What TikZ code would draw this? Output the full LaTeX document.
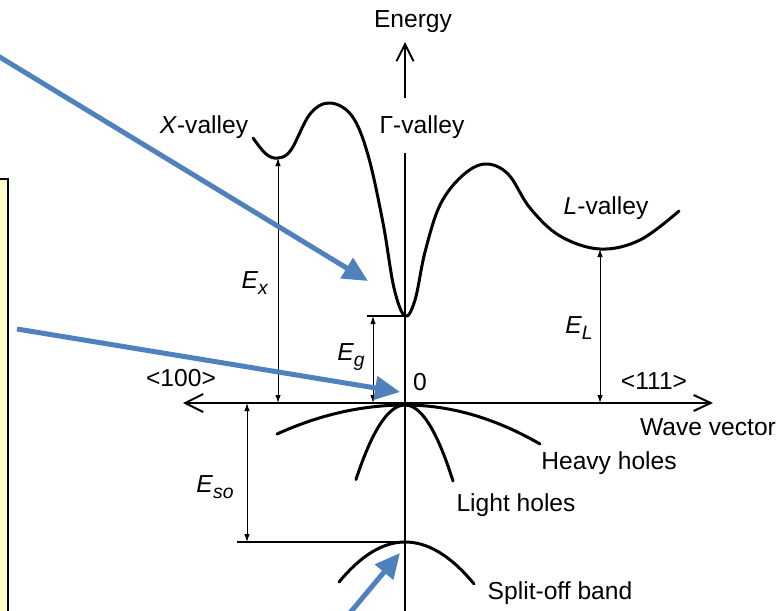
\documentclass[tikz,border=0pt]{standalone}
\usepackage{fontspec}
\setmainfont{Liberation Sans}
\usepackage{tikz}
\usetikzlibrary{arrows.meta}
\usepackage{xcolor}
\definecolor{pointblue}{HTML}{4F81BD}
\definecolor{notepad}{HTML}{FFFFCC}
\newcommand{\Esub}[1]{\textit{E}\raisebox{-0.5ex}{\fontsize{11}{12}\selectfont\textit{#1}}}

\begin{document}
\begin{tikzpicture}[
  x=0.2mm, y=-0.2mm,
  band/.style={line width=0.6mm, line join=round, line cap=round},
  axisline/.style={line width=0.4mm},
  axistip/.style={-{Straight Barb[length=3.4mm,width=3.4mm]}},
  dimline/.style={line width=0.2mm,
                  {Latex[length=1.6mm,width=1.1mm]}-{Latex[length=1.6mm,width=1.1mm]}},
  guide/.style={line width=0.25mm},
  pointer/.style={line width=1mm, color=pointblue, -{Triangle[length=5mm,width=4.6mm]}},
  txt/.style={font=\fontsize{14}{16}\selectfont, inner sep=1pt},
]
  \useasboundingbox (0,0) rectangle (781,610);

  % note box cut off at the left edge
  \draw[fill=notepad, line width=0.4mm] (-10,179) rectangle (8,620);

  % axes
  \coordinate (O) at (405,403);
  \coordinate (kl) at (183,403);
  \coordinate (kr) at (713,403);
  \coordinate (ebot) at (405,612);
  \coordinate (egap) at (405,153);
  \coordinate (ebase) at (405,98);
  \coordinate (etip) at (405,42);
  \draw[axisline, {Straight Barb[length=3.6mm,width=3.6mm]}-{Straight Barb[length=3.4mm,width=3.2mm]}] (kl) -- (kr);
  \draw[axisline] (ebot) -- (egap);
  \draw[axisline, axistip] (ebase) -- (etip);

  % conduction band
  \draw[band] plot[smooth, tension=0.6] coordinates {
    (253,138) (266,154) (278,158) (291,150) (310,114) (330,103)
    (352,116) (368,155) (383,223) (394,288) (405,316) (415,300)
    (425,252) (440,205) (462,176) (485,164) (508,174) (530,208)
    (560,236) (600,249) (640,240) (679,211)};

  % valence bands (offsets in tens of px)
  \draw[band] plot[domain=277:405, samples=40] (\x, {405+0.177*((\x-405)/10)^2});
  \draw[band] plot[domain=405:540, samples=40] (\x, {405+0.214*((\x-405)/10)^2});
  \draw[band] plot[domain=356:405, samples=30] (\x, {405+3.1*((\x-405)/10)^2});
  \draw[band] plot[domain=405:453, samples=30] (\x, {405+3.3*((\x-405)/10)^2});
  \draw[band] plot[domain=339:405, samples=30] (\x, {542+0.92*((\x-405)/10)^2});
  \draw[band] plot[domain=405:474, samples=30] (\x, {542+0.88*((\x-405)/10)^2});

  % energy separations
  \coordinate (Xmin) at (278,158);
  \coordinate (Gmin) at (405,316);
  \coordinate (Lmin) at (600,249);
  \coordinate (SOtop) at (405,542);
  \coordinate (gref) at (367,316);
  \coordinate (gtop) at (373,316);
  \coordinate (soref) at (237,542);
  \coordinate (sotop) at (247,403);
  \draw[guide] (gref) -- (Gmin);
  \draw[guide] (soref) -- (SOtop);
  \draw[dimline] (Xmin) -- (Xmin |- O);
  \draw[dimline] (gtop) -- (gtop |- O);
  \draw[dimline] (Lmin) -- (Lmin |- O);
  \draw[dimline] (sotop) -- (sotop |- SOtop);

  % labels
  \node[txt] (energy) at (413,22) {Energy};
  \node[txt] (xval) at (204,127) {\textit{X}-valley};
  \node[txt] (gval) at (422,127) {Γ-valley};
  \node[txt] (lval) at (606,208) {\textit{L}-valley};
  \node[txt] (ex) at (255,283) {\Esub{x}};
  \node[txt] (eg) at (351,357) {\Esub{g}};
  \node[txt] (el) at (579,328) {\Esub{L}};
  \node[txt] (eso) at (215,487) {\Esub{so}};
  \node[txt] (zero) at (420,382) {0};
  \node[txt] (dir100) at (181,378) {<100>};
  \node[txt] (dir111) at (654,381) {<111>};
  \node[txt] (wave) at (708,427) {Wave vector};
  \node[txt] (heavy) at (609,463) {Heavy holes};
  \node[txt] (light) at (516,505) {Light holes};
  \node[txt] (split) at (560,593) {Split-off band};

  % pointers
  \coordinate (p1) at (-2,56);
  \coordinate (q1) at (368,281);
  \coordinate (p2) at (17,329);
  \coordinate (q2) at (400,392);
  \coordinate (p3) at (349,614);
  \coordinate (q3) at (400,553);
  \draw[pointer] (p1) -- (q1);
  \draw[pointer] (p2) -- (q2);
  \draw[pointer] (p3) -- (q3);
\end{tikzpicture}
\end{document}
